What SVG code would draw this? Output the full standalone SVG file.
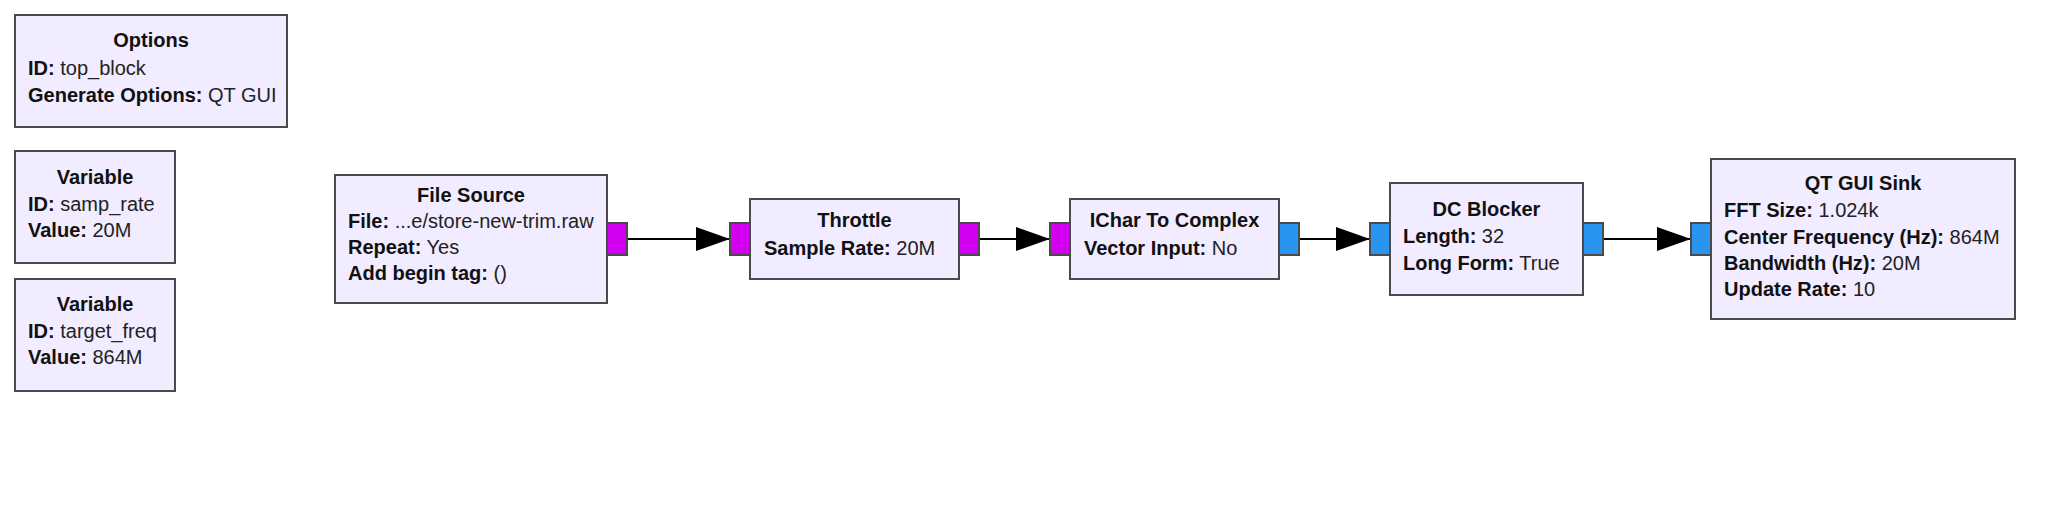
<svg xmlns="http://www.w3.org/2000/svg" width="2046" height="522" viewBox="0 0 2046 522">
<defs>
<style>
.blk{fill:#F1ECFF;stroke:#4a4a4a;stroke-width:2}
.pb{fill:#D400F0;stroke:#4a4a4a;stroke-width:2}
.pc{fill:#2A95F0;stroke:#4a4a4a;stroke-width:2}
text{font-family:"Liberation Sans",Arial,sans-serif;font-size:20px;fill:#111}
.t{font-weight:bold;text-anchor:middle}
.k{font-weight:bold}
.v{font-weight:normal;fill:#222}
.c{stroke:#000;stroke-width:2;fill:none;marker-end:url(#arr)}
</style>
<marker id="arr" markerUnits="userSpaceOnUse" markerWidth="34" markerHeight="24" refX="34" refY="12" orient="auto">
<path d="M0,0 L34,12 L0,24 z" fill="#000"/>
</marker>
</defs>
<rect width="2046" height="522" fill="#fff"/>

<g id="connectors">
<line class="c" x1="627" y1="239" x2="730" y2="239"/>
<line class="c" x1="979" y1="239" x2="1050" y2="239"/>
<line class="c" x1="1299" y1="239" x2="1370" y2="239"/>
<line class="c" x1="1603" y1="239" x2="1691" y2="239"/>
</g>

<g id="options">
<rect class="blk" x="15" y="15" width="272" height="112"/>
<text class="t" x="151" y="47">Options</text>
<text x="28" y="75"><tspan class="k">ID:</tspan><tspan class="v"> top_block</tspan></text>
<text x="28" y="101.5"><tspan class="k">Generate Options:</tspan><tspan class="v"> QT GUI</tspan></text>
</g>

<g id="variable_samp_rate">
<rect class="blk" x="15" y="151" width="160" height="112"/>
<text class="t" x="95" y="183.5">Variable</text>
<text x="28" y="211"><tspan class="k">ID:</tspan><tspan class="v"> samp_rate</tspan></text>
<text x="28" y="237"><tspan class="k">Value:</tspan><tspan class="v"> 20M</tspan></text>
</g>

<g id="variable_target_freq">
<rect class="blk" x="15" y="279" width="160" height="112"/>
<text class="t" x="95" y="311">Variable</text>
<text x="28" y="337.5"><tspan class="k">ID:</tspan><tspan class="v"> target_freq</tspan></text>
<text x="28" y="364"><tspan class="k">Value:</tspan><tspan class="v"> 864M</tspan></text>
</g>

<g id="file_source">
<rect class="blk" x="335" y="175" width="272" height="128"/>
<rect class="pb" x="607" y="223" width="20" height="32"/>
<text class="t" x="471" y="201.5">File Source</text>
<text x="348" y="228"><tspan class="k">File:</tspan><tspan class="v"> ...e/store-new-trim.raw</tspan></text>
<text x="348" y="254"><tspan class="k">Repeat:</tspan><tspan class="v"> Yes</tspan></text>
<text x="348" y="280"><tspan class="k">Add begin tag:</tspan><tspan class="v"> ()</tspan></text>
</g>

<g id="throttle">
<rect class="blk" x="750" y="199" width="209" height="80"/>
<rect class="pb" x="730" y="223" width="20" height="32"/>
<rect class="pb" x="959" y="223" width="20" height="32"/>
<text class="t" x="854.5" y="226.5">Throttle</text>
<text x="764" y="254.5"><tspan class="k">Sample Rate:</tspan><tspan class="v"> 20M</tspan></text>
</g>

<g id="ichar_to_complex">
<rect class="blk" x="1070" y="199" width="209" height="80"/>
<rect class="pb" x="1050" y="223" width="20" height="32"/>
<rect class="pc" x="1279" y="223" width="20" height="32"/>
<text class="t" x="1174.5" y="226.5">IChar To Complex</text>
<text x="1084" y="254.5"><tspan class="k">Vector Input:</tspan><tspan class="v"> No</tspan></text>
</g>

<g id="dc_blocker">
<rect class="blk" x="1390" y="183" width="193" height="112"/>
<rect class="pc" x="1370" y="223" width="20" height="32"/>
<rect class="pc" x="1583" y="223" width="20" height="32"/>
<text class="t" x="1486.5" y="215.5">DC Blocker</text>
<text x="1403" y="243"><tspan class="k">Length:</tspan><tspan class="v"> 32</tspan></text>
<text x="1403" y="269.5"><tspan class="k">Long Form:</tspan><tspan class="v"> True</tspan></text>
</g>

<g id="qt_gui_sink">
<rect class="blk" x="1711" y="159" width="304" height="160"/>
<rect class="pc" x="1691" y="223" width="20" height="32"/>
<text class="t" x="1863" y="189.5">QT GUI Sink</text>
<text x="1724" y="217"><tspan class="k">FFT Size:</tspan><tspan class="v"> 1.024k</tspan></text>
<text x="1724" y="243.5"><tspan class="k">Center Frequency (Hz):</tspan><tspan class="v"> 864M</tspan></text>
<text x="1724" y="270"><tspan class="k">Bandwidth (Hz):</tspan><tspan class="v"> 20M</tspan></text>
<text x="1724" y="296"><tspan class="k">Update Rate:</tspan><tspan class="v"> 10</tspan></text>
</g>
</svg>
